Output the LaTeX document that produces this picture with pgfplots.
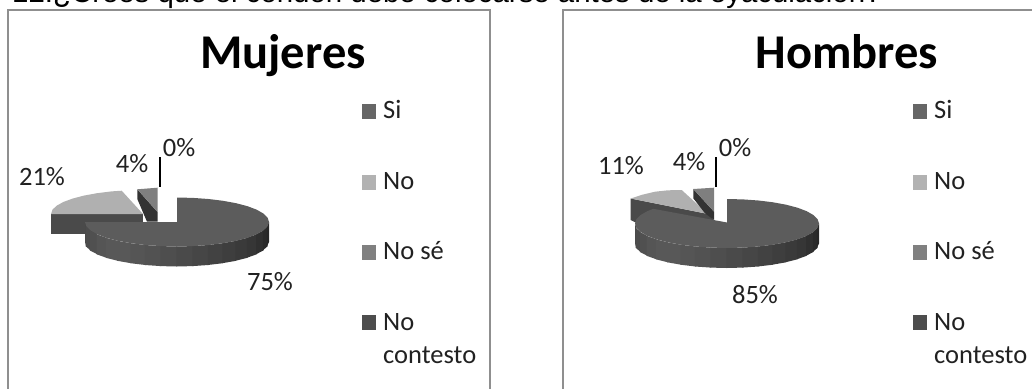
\documentclass[border=0pt]{standalone}
\usepackage{fontspec}
\setmainfont{Carlito}
\newfontfamily\arialf{Liberation Sans}
\usepackage{pgfplots}
\pgfplotsset{compat=1.18}
\definecolor{framec}{gray}{0.56}
\definecolor{txt}{gray}{0.13}
\newcommand{\poly}[2]{\addplot[fill={rgb,255:red,#1;green,#1;blue,#1},draw=none] coordinates {#2};}
\newcommand{\lab}[3]{\node[anchor=base,text=txt,font=\fontsize{26.5}{26.5}\selectfont,inner sep=0pt] at (axis cs:#1,#2) {#3};}
\newcommand{\legt}[3]{\node[anchor=base west,text=txt,font=\fontsize{26.5}{26.5}\selectfont,inner sep=0pt] at (axis cs:#1,#2) {#3};}
\begin{document}
\begin{tikzpicture}
\path[use as bounding box,clip] (0,0) rectangle (1032pt,388pt);
\begin{axis}[at={(0,0)},anchor=south west,scale only axis,width=1032pt,height=388pt,
  xmin=0,xmax=1032,ymin=0,ymax=388,y dir=reverse,axis lines=none,no markers,clip=true]
% frames
\addplot[framec,line width=2pt] coordinates {(8,395)(8,10)(489.5,10)(489.5,395)};
\addplot[framec,line width=2pt] coordinates {(563,395)(563,10)(1040,10)};
% ---- Mujeres: No
\poly{74}{(51,214)(143,214)(143,234.3)(51,234.3)}
\poly{176}{(143,214)(51,214)(52.4,209.8)(56.5,205.8)(63.3,202)(72.5,198.6)(83.9,195.6)(97,193.2)(111.5,191.4)(121.7,190.7)}
% No se
\poly{51}{(137.3,189.3)(157.5,212)(157.5,221.7)(147,221.7)(137.3,199)}
\poly{127}{(137.3,189.3)(157.5,187.7)(157.5,212)}
% Si wall
\poly{72}{(85,222)(86.4,226.3)(86.4,246.3)(85,242)}
\poly{76}{(85.7,226.3)(90.5,230.4)(90.5,250.4)(85.7,246.3)}
\poly{80}{(89.8,230.4)(97.3,234.3)(97.3,254.3)(89.8,250.4)}
\poly{85}{(96.6,234.3)(106.5,237.8)(106.5,257.8)(96.6,254.3)}
\poly{88}{(105.8,237.8)(117.9,240.8)(117.9,260.8)(105.8,257.8)}
\poly{88}{(117.2,240.8)(131,243.2)(131,263.2)(117.2,260.8)}
\poly{85}{(130.3,243.2)(145.5,245)(145.5,265)(130.3,263.2)}
\poly{82}{(144.8,245)(161,246.1)(161,266.1)(144.8,265)}
\poly{78}{(160.3,246.1)(177,246.5)(177,266.5)(160.3,266.1)}
\poly{74}{(176.3,246.5)(193,246.1)(193,266.1)(176.3,266.5)}
\poly{70}{(192.3,246.1)(208.5,245)(208.5,265)(192.3,266.1)}
\poly{66}{(207.8,245)(223,243.2)(223,263.2)(207.8,265)}
\poly{62}{(222.3,243.2)(236.1,240.8)(236.1,260.8)(222.3,263.2)}
\poly{58}{(235.4,240.8)(247.5,237.8)(247.5,257.8)(235.4,260.8)}
\poly{54}{(246.8,237.8)(256.7,234.3)(256.7,254.3)(246.8,257.8)}
\poly{48}{(256,234.3)(263.5,230.4)(263.5,250.4)(256,254.3)}
\poly{42}{(262.8,230.4)(267.6,226.3)(267.6,246.3)(262.8,250.4)}
\poly{38}{(266.9,226.3)(269,222)(269,242)(266.9,246.3)}
% Si top
\poly{92}{(177,222)(177,197.5)(193,197.9)(208.5,199)(223,200.8)(236.1,203.2)(247.5,206.2)(256.7,209.7)(263.5,213.6)(267.6,217.7)(269,222)(267.6,226.3)(263.5,230.4)(256.7,234.3)(247.5,237.8)(236.1,240.8)(223,243.2)(208.5,245)(193,246.1)(177,246.5)(161,246.1)(145.5,245)(131,243.2)(117.9,240.8)(106.5,237.8)(97.3,234.3)(90.5,230.4)(86.4,226.3)(85,222)}
% 0% line
\addplot[black,line width=1.6pt] coordinates {(160,157)(160,187)};
% ---- Hombres: No
\poly{74}{(630.7,198.5)(708,214)(713.5,220)(660,235)(630.7,220)}
\poly{176}{(630.7,198.5)(642,194.8)(655,191.7)(668,190.3)(681.7,190)(708,214)}
% No se
\poly{51}{(693.3,189)(714,211.7)(714,220)(705,213.3)(693.3,198.3)}
\poly{127}{(693.3,189)(714,187.7)(714,211.7)}
% Si wall
\poly{72}{(635,223.5)(636.4,227.8)(636.4,247.8)(635,243.5)}
\poly{76}{(635.7,227.8)(640.5,231.9)(640.5,251.9)(635.7,247.8)}
\poly{80}{(639.8,231.9)(647.3,235.8)(647.3,255.8)(639.8,251.9)}
\poly{85}{(646.6,235.8)(656.5,239.3)(656.5,259.3)(646.6,255.8)}
\poly{88}{(655.8,239.3)(667.9,242.3)(667.9,262.3)(655.8,259.3)}
\poly{88}{(667.2,242.3)(681,244.7)(681,264.7)(667.2,262.3)}
\poly{85}{(680.3,244.7)(695.5,246.5)(695.5,266.5)(680.3,264.7)}
\poly{82}{(694.8,246.5)(711,247.6)(711,267.6)(694.8,266.5)}
\poly{78}{(710.3,247.6)(727,248)(727,268)(710.3,267.6)}
\poly{74}{(726.3,248)(743,247.6)(743,267.6)(726.3,268)}
\poly{70}{(742.3,247.6)(758.5,246.5)(758.5,266.5)(742.3,267.6)}
\poly{66}{(757.8,246.5)(773,244.7)(773,264.7)(757.8,266.5)}
\poly{62}{(772.3,244.7)(786.1,242.3)(786.1,262.3)(772.3,264.7)}
\poly{58}{(785.4,242.3)(797.5,239.3)(797.5,259.3)(785.4,262.3)}
\poly{54}{(796.8,239.3)(806.7,235.8)(806.7,255.8)(796.8,259.3)}
\poly{48}{(806,235.8)(813.5,231.9)(813.5,251.9)(806,255.8)}
\poly{42}{(812.8,231.9)(817.6,227.8)(817.6,247.8)(812.8,251.9)}
\poly{38}{(816.9,227.8)(819,223.5)(819,243.5)(816.9,247.8)}
% Si top
\poly{92}{(727,222.5)(727,199)(743,199.4)(758.5,200.5)(773,202.3)(786.1,204.7)(797.5,207.7)(806.7,211.2)(813.5,215.1)(817.6,219.2)(819,223.5)(817.6,227.8)(813.5,231.9)(806.7,235.8)(797.5,239.3)(786.1,242.3)(773,244.7)(758.5,246.5)(743,247.6)(727,248)(711,247.6)(695.5,246.5)(681,244.7)(667.9,242.3)(656.5,239.3)(647.3,235.8)(640.5,231.9)(636.4,227.8)(635,223.5)(636.4,219.2)(640.5,215.1)(647.3,211.2)(653.3,208.8)}
\addplot[black,line width=1.6pt] coordinates {(716,157)(716,187)};
% legends
\poly{102}{(362,104)(376,104)(376,119)(362,119)}
\poly{178}{(362,175)(376,175)(376,190)(362,190)}
\poly{128}{(362,245)(376,245)(376,260)(362,260)}
\poly{77}{(362,315)(376,315)(376,330)(362,330)}
\poly{102}{(913,104)(927,104)(927,119)(913,119)}
\poly{178}{(913,175)(927,175)(927,190)(913,190)}
\poly{128}{(913,245)(927,245)(927,260)(913,260)}
\poly{77}{(913,315)(927,315)(927,330)(913,330)}
% texts
\node[anchor=base west,inner sep=0pt,font=\arialf\fontsize{29.4}{29.4}\selectfont] at (axis cs:12,2) {12.¿Crees que el condón debe colocarse antes de la eyaculación?};
\node[anchor=base,inner sep=0pt,font=\bfseries\fontsize{48.5}{48.5}\selectfont] at (axis cs:283,68) {Mujeres};
\node[anchor=base,inner sep=0pt,font=\bfseries\fontsize{48.5}{48.5}\selectfont] at (axis cs:847,68) {Hombres};
\lab{42}{185}{21\%}
\lab{132}{172}{4\%}
\lab{179}{156}{0\%}
\lab{270}{290}{75\%}
\lab{621}{174}{11\%}
\lab{689}{170}{4\%}
\lab{735}{156}{0\%}
\lab{755}{303}{85\%}
\legt{383}{118}{Si}
\legt{383}{189}{No}
\legt{383}{259}{No sé}
\legt{383}{330}{No}
\legt{383}{363}{contesto}
\legt{934}{118}{Si}
\legt{934}{189}{No}
\legt{934}{259}{No sé}
\legt{934}{330}{No}
\legt{934}{363}{contesto}
\end{axis}
\end{tikzpicture}
\end{document}
